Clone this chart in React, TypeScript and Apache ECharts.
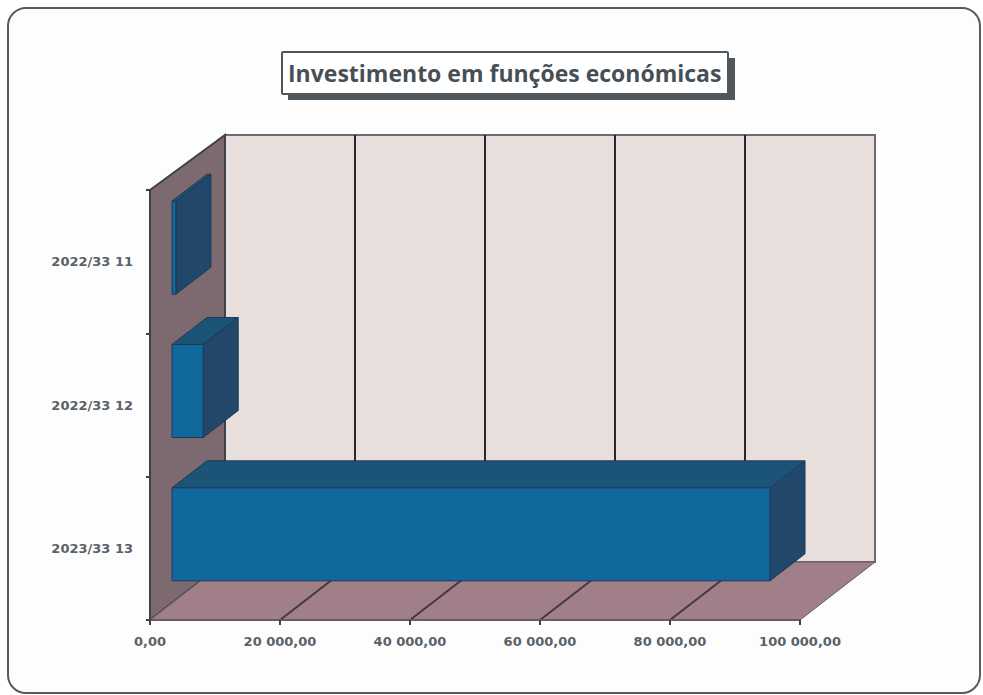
import React, { useEffect, useRef } from "react";
import * as echarts from "echarts";

const titleText = "Investimento em funções económicas";
const categories = ["2022/33 11", "2022/33 12", "2023/33 13"];
const investment = [600, 4800, 92000];
const axisTicks = [0, 20000, 40000, 60000, 80000, 100000];

const DEPTH_X = 75;
const DEPTH_Y = -58;
const TOP_DEPTH_Y = -55;
const BAR_SHIFT_X = 22;
const BAR_SHIFT_Y = -14;
const BAR_H = 93;
const BAR_DX = 35;
const BAR_DY = -27;

const fmt = (v: number) => {
  const s = String(v).replace(/\B(?=(\d{3})+(?!\d))/g, " ");
  return s + ",00";
};

export default function App() {
  const ref = useRef<HTMLDivElement>(null);
  useEffect(() => {
    document.body.style.margin = "0";
    document.body.style.background = "#ffffff";
    const chart = echarts.init(ref.current!, undefined, { renderer: "svg" });
    const labelStyle = {
      color: "#5a6167",
      fontFamily: "DejaVu Sans",
      fontSize: 13,
      fontWeight: 600,
    };
    chart.setOption({
      animation: false,
      backgroundColor: "#ffffff",
      title: {
        text: titleText,
        left: 288,
        top: 61,
        padding: 0,
        textStyle: {
          color: "#474f55",
          fontFamily: "Open Sans",
          fontSize: 23,
          fontWeight: 700,
        },
        z: 20,
      },
      graphic: [
        {
          type: "rect",
          z: 0,
          shape: { x: 8, y: 8, width: 972, height: 685, r: 18 },
          style: { fill: "#fdfdfd", stroke: "#555b60", lineWidth: 2 },
        },
        {
          type: "rect",
          z: 1,
          shape: { x: 288, y: 58, width: 447, height: 42 },
          style: { fill: "#4f565c" },
        },
        {
          type: "rect",
          z: 2,
          shape: { x: 282, y: 52, width: 446, height: 42, r: 1 },
          style: { fill: "#ffffff", stroke: "#4f565c", lineWidth: 2 },
        },
      ],
      grid: { left: 150, right: 183, top: 190, height: 430 },
      xAxis: {
        type: "value",
        min: 0,
        max: 100000,
        interval: 20000,
        z: 10,
        splitLine: { show: false },
        axisLine: { show: true, lineStyle: { color: "#6b5a60", width: 2 } },
        axisTick: { show: true, length: 5, lineStyle: { color: "#3f3f45", width: 2 } },
        axisLabel: { ...labelStyle, margin: 15, formatter: (v: number) => fmt(v) },
      },
      yAxis: {
        type: "category",
        inverse: true,
        data: categories,
        z: 10,
        axisLine: { show: true, lineStyle: { color: "#3f4148", width: 2 } },
        axisTick: { show: true, length: 4, lineStyle: { color: "#3f4148", width: 2 } },
        axisLabel: { ...labelStyle, margin: 17, padding: [9, 0, 0, 0] },
      },
      series: [
        {
          type: "custom",
          name: "paredes",
          z: 1,
          clip: false,
          silent: true,
          data: [[0, 0]],
          renderItem: (params: any) => {
            const c = params.coordSys;
            const l = c.x, t = c.y, r = c.x + c.width, b = c.y + c.height;
            const bl = l + DEPTH_X, br = r + DEPTH_X, tt = t + TOP_DEPTH_Y, bb = b + DEPTH_Y;
            return {
              type: "group",
              children: [
                {
                  type: "polygon",
                  shape: { points: [[bl, tt], [br, tt], [br, bb], [bl, bb]] },
                  style: { fill: "#e8dfdd", stroke: "#6f6a70", lineWidth: 2 },
                },
                {
                  type: "polygon",
                  shape: { points: [[l, t], [bl, tt], [bl, bb], [l, b]] },
                  style: { fill: "#7d6a70", stroke: "#3f4148", lineWidth: 2 },
                },
                {
                  type: "polygon",
                  shape: { points: [[l, b], [bl, bb], [br, bb], [r, b]] },
                  style: { fill: "#a07f89", stroke: "#6b5a60", lineWidth: 1 },
                },
              ],
            };
          },
        },
        {
          type: "custom",
          name: "grelha",
          z: 2,
          clip: false,
          silent: true,
          data: axisTicks.slice(1, -1).map((v) => [v, 0]),
          renderItem: (params: any, api: any) => {
            const c = params.coordSys;
            const x = api.coord([api.value(0), 0])[0];
            const b = c.y + c.height;
            const t = c.y;
            return {
              type: "group",
              children: [
                {
                  type: "line",
                  shape: { x1: x + DEPTH_X, y1: t + TOP_DEPTH_Y, x2: x + DEPTH_X, y2: b + DEPTH_Y },
                  style: { stroke: "#26262c", lineWidth: 2 },
                },
                {
                  type: "line",
                  shape: { x1: x, y1: b, x2: x + DEPTH_X, y2: b + DEPTH_Y },
                  style: { stroke: "#3f3a40", lineWidth: 2 },
                },
              ],
            };
          },
        },
        {
          type: "custom",
          name: "Investimento",
          z: 3,
          clip: false,
          encode: { x: 0, y: 1 },
          data: investment.map((v, i) => [v, i]),
          renderItem: (_params: any, api: any) => {
            const [x1, cy] = api.coord([api.value(0), api.value(1)]);
            const [x0] = api.coord([0, api.value(1)]);
            const l = x0 + BAR_SHIFT_X;
            const r = x1 + BAR_SHIFT_X;
            const t = cy + BAR_SHIFT_Y - BAR_H / 2;
            const b = t + BAR_H;
            const edge = { stroke: "#1e3a52", lineWidth: 1 };
            return {
              type: "group",
              children: [
                {
                  type: "polygon",
                  shape: { points: [[l, t], [l + BAR_DX, t + BAR_DY], [r + BAR_DX, t + BAR_DY], [r, t]] },
                  style: { fill: "#1c5478", ...edge },
                },
                {
                  type: "polygon",
                  shape: { points: [[r, t], [r + BAR_DX, t + BAR_DY], [r + BAR_DX, b + BAR_DY], [r, b]] },
                  style: { fill: "#21476a", ...edge },
                },
                {
                  type: "rect",
                  shape: { x: l, y: t, width: r - l, height: b - t },
                  style: { fill: "#11689c", ...edge },
                },
              ],
            };
          },
        },
      ],
    });
    return () => chart.dispose();
  }, []);
  return <div ref={ref} style={{ width: 983, height: 695 }} />;
}
